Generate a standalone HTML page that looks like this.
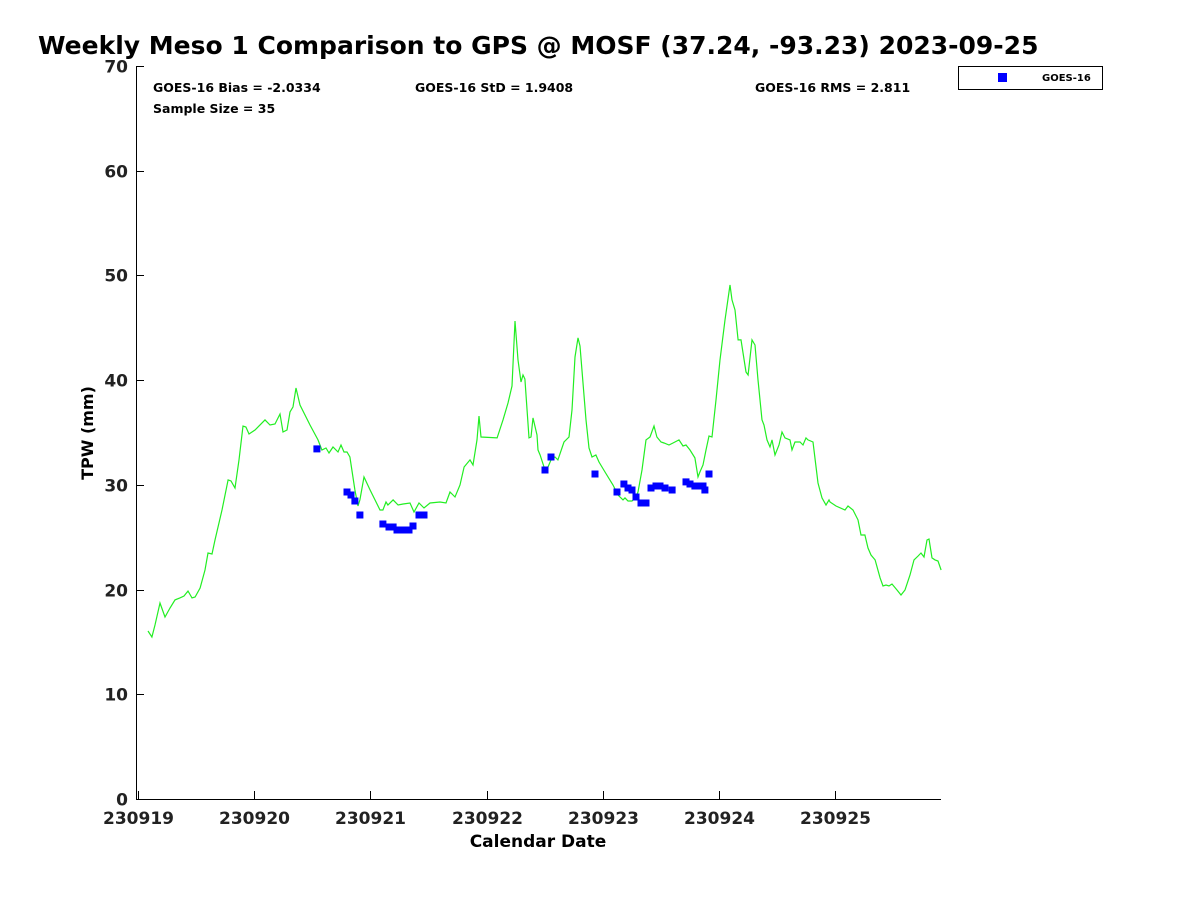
<!DOCTYPE html>
<html><head><meta charset="utf-8"><style>
html,body{margin:0;padding:0;background:#fff;}
svg{display:block;font-family:"DejaVu Sans","Liberation Sans",sans-serif;}
</style></head><body>
<svg id="chart" width="1200" height="900" viewBox="0 0 1200 900">
<rect width="1200" height="900" fill="#fff"/>
<text x="38" y="54" font-size="25" font-weight="bold">Weekly Meso 1 Comparison to GPS @ MOSF (37.24, -93.23) 2023-09-25</text>
<text x="153" y="92" font-size="12.5" font-weight="bold">GOES-16 Bias = -2.0334</text>
<text x="415" y="92" font-size="12.5" font-weight="bold">GOES-16 StD = 1.9408</text>
<text x="755" y="92" font-size="12.5" font-weight="bold">GOES-16 RMS = 2.811</text>
<text x="153" y="113" font-size="12.5" font-weight="bold">Sample Size = 35</text>
<g>
<rect x="958.5" y="66.5" width="144" height="23" fill="#fff" stroke="#000" stroke-width="1"/>
<rect x="998" y="73" width="9" height="9" fill="#0000ff"/>
<text x="1042" y="81" font-size="10" font-weight="bold">GOES-16</text>
</g>
<text transform="translate(93,433) rotate(-90)" text-anchor="middle" font-size="16" font-weight="bold">TPW (mm)</text>
<text x="538" y="847" text-anchor="middle" font-size="17" font-weight="bold">Calendar Date</text>
<g id="axes"></g>
<g id="marks"></g>
</svg>
<script>
const yTicks=[0,10,20,30,40,50,60,70];
const xTickLabels=["230919","230920","230921","230922","230923","230924","230925"];
const gpsDays=[0.086,0.120,0.146,0.189,0.232,0.275,0.318,0.361,0.396,0.430,0.465,0.491,0.534,0.577,0.602,0.637,0.663,0.723,0.775,0.800,0.835,0.869,0.904,0.929,0.955,1.007,1.093,1.136,1.179,1.222,1.248,1.282,1.308,1.334,1.360,1.394,1.437,1.480,1.549,1.583,1.618,1.644,1.678,1.721,1.747,1.773,1.799,1.824,1.867,1.893,1.910,1.945,1.997,2.040,2.083,2.108,2.134,2.151,2.195,2.238,2.281,2.341,2.375,2.418,2.461,2.513,2.599,2.651,2.685,2.728,2.771,2.806,2.857,2.883,2.917,2.935,2.952,3.090,3.141,3.184,3.219,3.244,3.270,3.296,3.313,3.330,3.365,3.382,3.399,3.434,3.442,3.460,3.503,3.528,3.554,3.589,3.614,3.666,3.709,3.735,3.761,3.787,3.804,3.855,3.881,3.907,3.941,3.967,4.019,4.088,4.131,4.174,4.191,4.217,4.251,4.286,4.303,4.337,4.372,4.406,4.441,4.466,4.501,4.527,4.570,4.604,4.656,4.690,4.716,4.750,4.793,4.819,4.836,4.862,4.888,4.914,4.940,4.974,5.009,5.052,5.095,5.112,5.138,5.164,5.189,5.232,5.250,5.284,5.310,5.336,5.370,5.387,5.413,5.439,5.456,5.482,5.516,5.542,5.568,5.611,5.628,5.654,5.697,5.723,5.749,5.766,5.809,5.852,5.886,5.921,5.947,5.955,6.007,6.084,6.110,6.153,6.196,6.222,6.256,6.282,6.308,6.343,6.386,6.411,6.437,6.463,6.489,6.532,6.566,6.601,6.644,6.678,6.713,6.738,6.764,6.790,6.807,6.833,6.859,6.885,6.911];
const gpsTpw=[16.04,15.47,16.62,18.72,17.38,18.24,19.01,19.20,19.39,19.86,19.20,19.29,20.15,21.87,23.49,23.40,24.73,27.60,30.47,30.37,29.70,32.38,35.62,35.53,34.86,35.24,36.20,35.72,35.81,36.77,35.05,35.24,36.96,37.44,39.25,37.63,36.67,35.72,34.29,33.33,33.52,33.04,33.62,33.14,33.81,33.14,33.14,32.66,29.51,27.98,28.56,30.75,29.51,28.56,27.60,27.60,28.36,28.08,28.56,28.08,28.17,28.27,27.41,28.27,27.79,28.27,28.36,28.27,29.32,28.84,29.99,31.71,32.38,31.90,34.29,36.58,34.57,34.48,36.20,37.82,39.44,45.65,41.93,39.82,40.49,40.11,34.48,34.57,36.39,34.76,33.33,32.85,31.42,31.71,32.38,32.66,32.38,34.09,34.57,37.15,42.21,44.03,43.26,36.20,33.52,32.66,32.85,32.18,31.23,29.99,29.03,28.56,28.75,28.46,28.46,28.84,29.32,31.42,34.29,34.57,35.62,34.57,34.09,34.00,33.81,34.00,34.29,33.71,33.81,33.33,32.57,30.75,31.23,31.90,33.33,34.67,34.57,38.11,41.93,45.75,49.09,47.66,46.70,43.84,43.84,40.78,40.49,43.84,43.36,40.02,36.20,35.72,34.29,33.62,34.29,32.85,33.81,35.05,34.48,34.29,33.33,34.09,34.09,33.81,34.48,34.29,34.09,30.18,28.75,28.08,28.56,28.36,27.98,27.60,27.98,27.60,26.65,25.21,25.21,23.97,23.30,22.83,21.11,20.34,20.44,20.34,20.53,19.96,19.48,19.96,21.39,22.83,23.21,23.49,23.11,24.73,24.83,23.02,22.83,22.73,21.87];
const goesDays=[1.540,1.799,1.833,1.867,1.910,2.108,2.160,2.195,2.229,2.263,2.298,2.332,2.367,2.418,2.461,3.503,3.554,3.933,4.122,4.182,4.217,4.251,4.286,4.329,4.372,4.415,4.458,4.492,4.535,4.596,4.716,4.750,4.793,4.828,4.862,4.879,4.914];
const goesTpw=[33.43,29.32,29.03,28.46,27.12,26.26,25.98,25.98,25.69,25.69,25.69,25.69,26.07,27.12,27.12,31.42,32.66,31.04,29.32,30.08,29.70,29.51,28.84,28.27,28.27,29.70,29.89,29.89,29.70,29.51,30.28,30.08,29.89,29.89,29.89,29.51,31.04];

const NS="http://www.w3.org/2000/svg";
const L=136,R=941,T=66,B=799,X0=138,DAY=116.2;
const xs=d=>X0+d*DAY;
const ys=v=>B-(v/70)*(B-T);
function mk(tag,attrs,parent){const e=document.createElementNS(NS,tag);for(const k in attrs)e.setAttribute(k,attrs[k]);parent.appendChild(e);return e;}
const axes=document.getElementById('axes'),marks=document.getElementById('marks');
const yl=mk('line',{x1:L+0.5,y1:T,x2:L+0.5,y2:B,stroke:'#000','stroke-width':1},axes);


const xl=mk('line',{x1:L,y1:B+0.5,x2:R,y2:B+0.5,stroke:'#000','stroke-width':1},axes);


yTicks.forEach(v=>{
  const y=Math.round(ys(v))+0.5;
  mk('line',{x1:L,y1:y,x2:L+8,y2:y,stroke:'#000'},axes);
  const t=mk('text',{x:L-8,y:y+6,'text-anchor':'end','font-size':17,'font-weight':'bold',fill:'#222'},axes);
  t.textContent=v;
  
  
});
xTickLabels.forEach((lab,i)=>{
  const x=Math.round(xs(i))+0.5;
  mk('line',{x1:x,y1:B,x2:x,y2:B-8,stroke:'#000'},axes);
  const t=mk('text',{x:x,y:B+25,'text-anchor':'middle','font-size':17,'font-weight':'bold',fill:'#222'},axes);
  t.textContent=lab;
  
  
});
const pts=gpsDays.map((d,i)=>xs(d).toFixed(1)+','+ys(gpsTpw[i]).toFixed(1)).join(' ');
const line=mk('polyline',{points:pts,fill:'none',stroke:'#22ee22','stroke-width':1.2},marks);


goesDays.forEach((d,i)=>{
  const r=mk('rect',{x:(xs(d)-3.5).toFixed(1),y:(ys(goesTpw[i])-3.5).toFixed(1),width:7,height:7,fill:'#0000ff'},marks);
  
  
});
</script>
</body></html>
